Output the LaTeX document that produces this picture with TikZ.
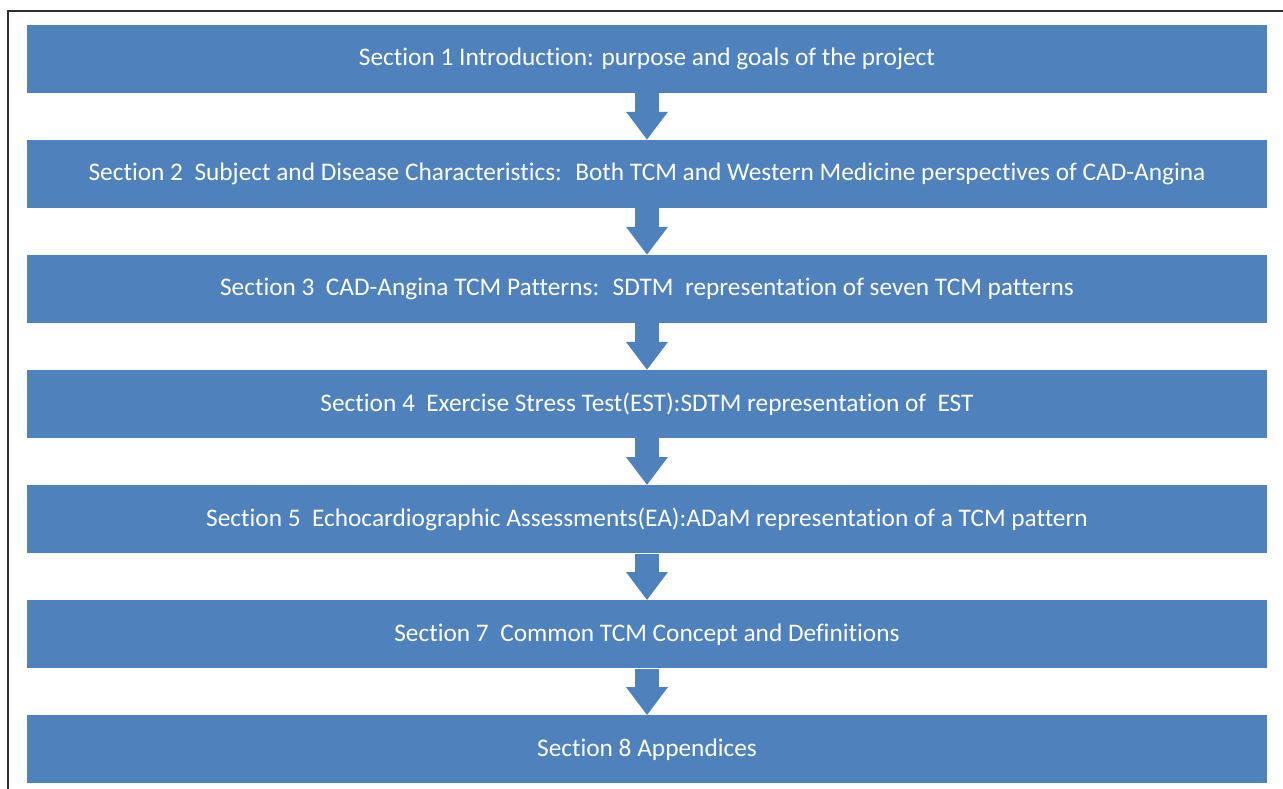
\documentclass[tikz,border=0pt]{standalone}
\usepackage{fontspec}
\setmainfont{Carlito}[Ligatures={NoCommon}]
\usepackage{xcolor}
\usetikzlibrary{positioning}
\usetikzlibrary{arrows.meta}
\definecolor{secblue}{HTML}{4F81BD}
\definecolor{framegray}{HTML}{303030}
\tikzset{
    secbox/.style={fill=secblue, text=white, inner sep=0pt,
        minimum width=930pt, minimum height=51pt,
        font=\fontsize{19}{22}\selectfont},
    downarrow/.style={draw=secblue, line width=18pt,
        -{Triangle[width=30pt,length=21pt]}}
}

\begin{document}
\begin{tikzpicture}[x=0.75pt,y=-0.75pt]
\useasboundingbox (0,0) rectangle (1283,789);
% Frame
\draw[framegray, line width=1.5pt] (8,789) -- (8,10.5) -- (1283,10.5);

% Section 1
\node[secbox] (sec1) at (647,59) {Section 1 Introduction: purpose and goals of the project};
% Section 2
\node[secbox,
    below=34.9pt of sec1
] (sec2) {Section 2~ Subject and Disease Characteristics:~ Both TCM and Western Medicine perspectives of CAD-Angina};
% Section 3
\node[secbox,
    below=34.9pt of sec2
] (sec3) {Section 3~ CAD-Angina TCM Patterns:~ SDTM~ representation of seven TCM patterns};
% Section 4
\node[secbox,
    below=34.9pt of sec3
] (sec4) {Section 4~ Exercise Stress Test(EST):SDTM representation of~ EST};
% Section 5
\node[secbox,
    below=34.9pt of sec4
] (sec5) {Section 5~ Echocardiographic Assessments(EA):ADaM representation of a TCM pattern};
% Section 7
\node[secbox,
    below=34.9pt of sec5
] (sec7) {Section 7~ Common TCM Concept and Definitions};
% Section 8
\node[secbox,
    below=34.9pt of sec7
] (sec8) {Section 8 Appendices};

% Arrows between sections
\draw[downarrow] (sec1.south) -- (sec2.north);
\draw[downarrow] (sec2.south) -- (sec3.north);
\draw[downarrow] (sec3.south) -- (sec4.north);
\draw[downarrow] (sec4.south) -- (sec5.north);
\draw[downarrow] (sec5.south) -- (sec7.north);
\draw[downarrow] (sec7.south) -- (sec8.north);

\end{tikzpicture}
\end{document}
